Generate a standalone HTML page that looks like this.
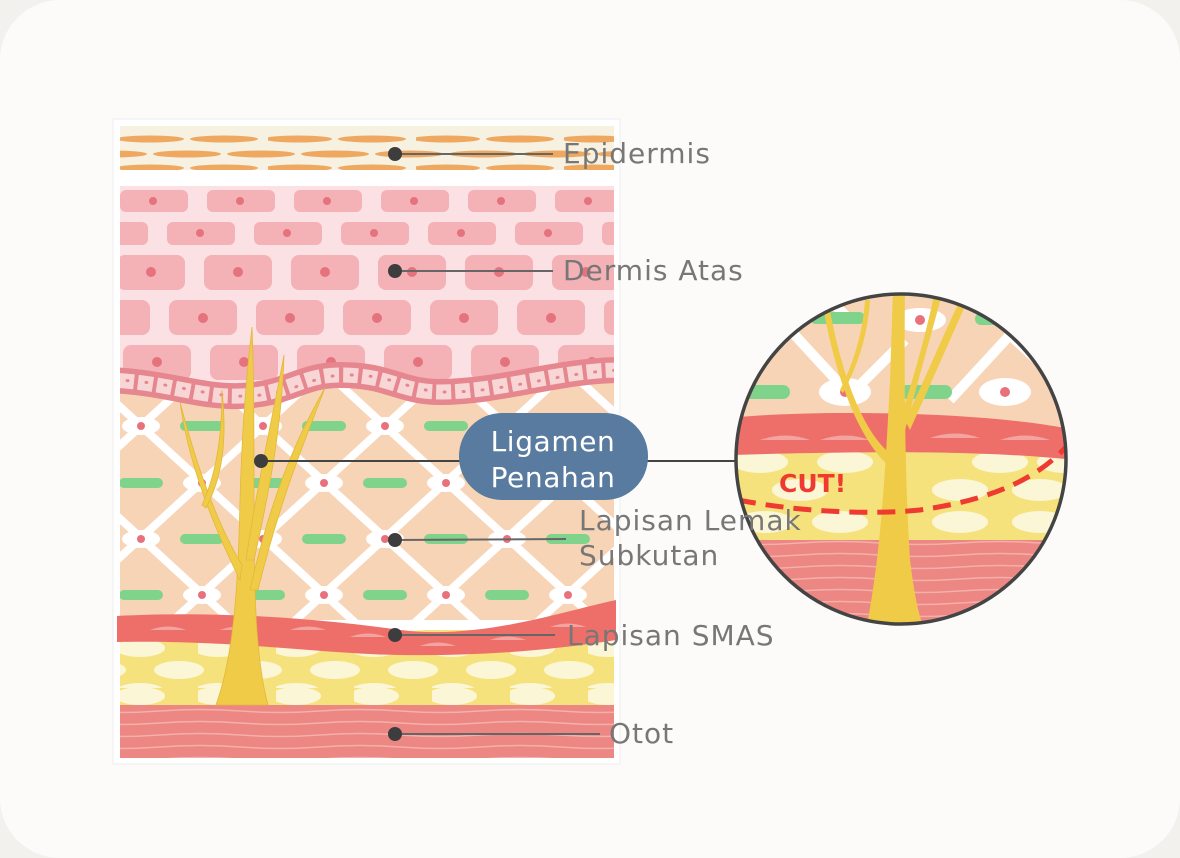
<!DOCTYPE html>
<html><head><meta charset="utf-8"><style>
html,body{margin:0;padding:0;background:#f3f1ee;}
svg{display:block;}
text{font-family:"DejaVu Sans","Liberation Sans",sans-serif;}
</style></head><body>
<svg width="1180" height="858" viewBox="0 0 1180 858" xmlns="http://www.w3.org/2000/svg">
<defs>
<pattern id="epi" x="120" y="126" width="148" height="44" patternUnits="userSpaceOnUse">
<rect width="148" height="44" fill="#f7f1e1"/>
<ellipse cx="30" cy="13" rx="34" ry="3.5" fill="#efa860"/><ellipse cx="104" cy="13" rx="34" ry="3.5" fill="#efa860"/>
<ellipse cx="-7" cy="28" rx="34" ry="3.5" fill="#efa860"/><ellipse cx="67" cy="28" rx="34" ry="3.5" fill="#efa860"/><ellipse cx="141" cy="28" rx="34" ry="3.5" fill="#efa860"/>
<ellipse cx="30" cy="42" rx="34" ry="3.5" fill="#efa860"/><ellipse cx="104" cy="42" rx="34" ry="3.5" fill="#efa860"/>
</pattern>
<pattern id="lat" x="80" y="370" width="122" height="112" patternUnits="userSpaceOnUse">
<rect width="122" height="112" fill="#f8d4b6"/>
<path d="M-122,0 L0,112 M0,0 L122,112 M122,0 L244,112 M-122,112 L0,0 M0,112 L122,0 M122,112 L244,0" stroke="#fff" stroke-width="8" fill="none"/>
</pattern>
<g id="eye"><ellipse cx="0" cy="0" rx="19" ry="9" fill="#fff"/><circle r="4" fill="#e8727c"/></g>
<rect id="grn" x="-22" y="-5" width="44" height="10" rx="5" fill="#7fd38a"/>
<pattern id="yel" x="120" y="640" width="78" height="48" patternUnits="userSpaceOnUse">
<rect width="78" height="48" fill="#f6e27c"/>
<ellipse cx="20" cy="8" rx="25" ry="9" fill="#fbf6d6"/>
<ellipse cx="59" cy="30" rx="25" ry="9" fill="#fbf6d6"/>
<ellipse cx="-19" cy="30" rx="25" ry="9" fill="#fbf6d6"/>
<ellipse cx="20" cy="52" rx="25" ry="9" fill="#fbf6d6"/>
</pattern>
<pattern id="mus" x="0" y="705" width="160" height="12" patternUnits="userSpaceOnUse">
<rect width="160" height="12" fill="#ec8783"/>
<path d="M0,6 Q40,3 80,6 T160,6" stroke="#f5b0aa" stroke-width="1.5" fill="none"/>
</pattern>
<clipPath id="cc"><circle cx="901" cy="459" r="165"/></clipPath>
<clipPath id="pc"><rect x="120" y="186" width="494" height="572"/></clipPath>
</defs>

<rect x="0" y="0" width="1180" height="858" rx="60" fill="#fcfbf9"/>
<rect x="113" y="119" width="507" height="645" fill="#fff" stroke="#eee" stroke-width="1"/>

<rect x="120" y="126" width="494" height="44" fill="url(#epi)"/>

<g clip-path="url(#pc)">
<rect x="120" y="186" width="494" height="200" fill="#fbe1e3"/>
<g fill="#f4b1b6">
<rect x="120" y="190" width="68" height="22" rx="6"/><rect x="207" y="190" width="68" height="22" rx="6"/><rect x="294" y="190" width="68" height="22" rx="6"/><rect x="381" y="190" width="68" height="22" rx="6"/><rect x="468" y="190" width="68" height="22" rx="6"/><rect x="555" y="190" width="68" height="22" rx="6"/>
<rect x="80" y="222" width="68" height="23" rx="6"/><rect x="167" y="222" width="68" height="23" rx="6"/><rect x="254" y="222" width="68" height="23" rx="6"/><rect x="341" y="222" width="68" height="23" rx="6"/><rect x="428" y="222" width="68" height="23" rx="6"/><rect x="515" y="222" width="68" height="23" rx="6"/><rect x="602" y="222" width="68" height="23" rx="6"/>
<rect x="117" y="255" width="68" height="35" rx="8"/><rect x="204" y="255" width="68" height="35" rx="8"/><rect x="291" y="255" width="68" height="35" rx="8"/><rect x="378" y="255" width="68" height="35" rx="8"/><rect x="465" y="255" width="68" height="35" rx="8"/><rect x="552" y="255" width="68" height="35" rx="8"/>
<rect x="82" y="300" width="68" height="35" rx="8"/><rect x="169" y="300" width="68" height="35" rx="8"/><rect x="256" y="300" width="68" height="35" rx="8"/><rect x="343" y="300" width="68" height="35" rx="8"/><rect x="430" y="300" width="68" height="35" rx="8"/><rect x="517" y="300" width="68" height="35" rx="8"/><rect x="604" y="300" width="68" height="35" rx="8"/>
<rect x="123" y="345" width="68" height="35" rx="8"/><rect x="210" y="345" width="68" height="35" rx="8"/><rect x="297" y="345" width="68" height="35" rx="8"/><rect x="384" y="345" width="68" height="35" rx="8"/><rect x="471" y="345" width="68" height="35" rx="8"/><rect x="558" y="345" width="68" height="35" rx="8"/>
</g>
<g fill="#e5737d">
<circle cx="153" cy="201" r="4"/><circle cx="240" cy="201" r="4"/><circle cx="327" cy="201" r="4"/><circle cx="414" cy="201" r="4"/><circle cx="501" cy="201" r="4"/><circle cx="588" cy="201" r="4"/>
<circle cx="200" cy="233" r="4"/><circle cx="287" cy="233" r="4"/><circle cx="374" cy="233" r="4"/><circle cx="461" cy="233" r="4"/><circle cx="548" cy="233" r="4"/>
<circle cx="151" cy="272" r="5"/><circle cx="238" cy="272" r="5"/><circle cx="325" cy="272" r="5"/><circle cx="412" cy="272" r="5"/><circle cx="499" cy="272" r="5"/><circle cx="586" cy="272" r="5"/>
<circle cx="203" cy="318" r="5"/><circle cx="290" cy="318" r="5"/><circle cx="377" cy="318" r="5"/><circle cx="464" cy="318" r="5"/><circle cx="551" cy="318" r="5"/>
<circle cx="157" cy="362" r="5"/><circle cx="244" cy="362" r="5"/><circle cx="331" cy="362" r="5"/><circle cx="418" cy="362" r="5"/><circle cx="505" cy="362" r="5"/><circle cx="592" cy="362" r="5"/>
</g>
<path d="M100,382 C160,382 200,398 240,396 C290,394 300,375 340,375 C390,375 400,392 440,392 C500,392 560,370 620,370 L620,620 L100,620 Z" fill="url(#lat)"/>
<path d="M100,380 C160,380 200,398 240,396 C290,394 300,375 340,375 C390,375 400,392 440,392 C500,392 560,370 620,370" stroke="#e6868f" stroke-width="26" fill="none"/>
<path d="M100,380 C160,380 200,398 240,396 C290,394 300,375 340,375 C390,375 400,392 440,392 C500,392 560,370 620,370" stroke="#f9d6d6" stroke-width="15" stroke-dasharray="15 4" fill="none"/>
<path d="M100,380 C160,380 200,398 240,396 C290,394 300,375 340,375 C390,375 400,392 440,392 C500,392 560,370 620,370" stroke="#e6868f" stroke-width="3" stroke-dasharray="1 18" stroke-linecap="round" fill="none" transform="translate(8,0)"/>
<use href="#eye" x="141" y="426"/><use href="#eye" x="263" y="426"/><use href="#eye" x="385" y="426"/><use href="#eye" x="507" y="426"/>
<use href="#grn" x="202" y="426"/><use href="#grn" x="324" y="426"/><use href="#grn" x="446" y="426"/><use href="#grn" x="568" y="426"/>
<use href="#grn" x="141" y="483"/><use href="#grn" x="263" y="483"/><use href="#grn" x="385" y="483"/><use href="#grn" x="507" y="483"/>
<use href="#eye" x="202" y="483"/><use href="#eye" x="324" y="483"/><use href="#eye" x="446" y="483"/><use href="#eye" x="568" y="483"/>
<use href="#eye" x="141" y="539"/><use href="#eye" x="263" y="539"/><use href="#eye" x="385" y="539"/><use href="#eye" x="507" y="539"/>
<use href="#grn" x="202" y="539"/><use href="#grn" x="324" y="539"/><use href="#grn" x="446" y="539"/><use href="#grn" x="568" y="539"/>
<use href="#grn" x="141" y="595"/><use href="#grn" x="263" y="595"/><use href="#grn" x="385" y="595"/><use href="#grn" x="507" y="595"/>
<use href="#eye" x="202" y="595"/><use href="#eye" x="324" y="595"/><use href="#eye" x="446" y="595"/><use href="#eye" x="568" y="595"/>
<rect x="120" y="630" width="494" height="78" fill="url(#yel)"/>
<rect x="120" y="705" width="494" height="53" fill="url(#mus)"/>
</g>
<path d="M117,616 C220,610 330,620 400,630 C480,640 560,612 616,600 L616,640 C540,652 470,656 400,655 C320,654 240,640 117,642 Z" fill="#ee6f69"/>
<g fill="#f3a3a0">
<path d="M150,630 q18,-7 36,0 z"/><path d="M220,630 q18,-7 36,0 z"/><path d="M290,630 q18,-7 36,0 z"/><path d="M350,637 q18,-7 36,0 z"/><path d="M420,646 q18,-7 36,0 z"/><path d="M490,640 q18,-7 36,0 z"/><path d="M550,627 q18,-7 36,0 z"/>
</g>
<g fill="#f0cb48" stroke="#e2b83a" stroke-width="0.8">
<path d="M216,705 C232,660 238,600 240,500 C242,430 246,380 252,327 C254,380 254,430 254,500 C254,600 256,660 268,705 Z"/>
<path d="M246,560 C258,480 272,420 284,355 C282,420 272,480 254,560 Z"/>
<path d="M250,590 C270,500 295,440 325,388 C305,440 280,500 258,590 Z"/>
<path d="M242,565 C215,520 195,460 180,402 C188,460 210,520 240,580 Z"/>
<path d="M202,505 C218,470 222,430 222,390 C226,430 226,470 206,508 Z"/>
</g>

<g stroke="#666" stroke-width="2" fill="none">
<line x1="395" y1="154" x2="553" y2="154"/><line x1="395" y1="271" x2="553" y2="271"/>
<line x1="395" y1="540" x2="566" y2="539"/><line x1="395" y1="635" x2="555" y2="635"/>
<line x1="395" y1="734" x2="600" y2="734"/>
<line x1="261" y1="461" x2="470" y2="461" stroke="#444"/>
<line x1="640" y1="461" x2="736" y2="461" stroke="#444"/>
</g>
<g fill="#3d3d3d">
<circle cx="395" cy="154" r="7"/><circle cx="395" cy="271" r="7"/><circle cx="395" cy="540" r="7"/><circle cx="395" cy="635" r="7"/><circle cx="395" cy="734" r="7"/><circle cx="261" cy="461" r="7"/>
</g>

<g clip-path="url(#cc)">
<rect x="730" y="290" width="345" height="340" fill="#f8d4b6"/>
<path d="M700,425 L790,330 L850,395 L905,340 M950,400 L1010,335 L1080,400 M820,290 L850,320 M1040,290 L1075,330" stroke="#fff" stroke-width="10" fill="none"/>
<rect x="810" y="312" width="55" height="12" rx="6" fill="#7fd38a"/><rect x="975" y="313" width="40" height="12" rx="6" fill="#7fd38a"/>
<rect x="740" y="385" width="50" height="14" rx="7" fill="#7fd38a"/><rect x="900" y="385" width="52" height="14" rx="7" fill="#7fd38a"/>
<ellipse cx="845" cy="392" rx="26" ry="14" fill="#fff"/><circle cx="845" cy="392" r="5" fill="#e8727c"/>
<ellipse cx="1005" cy="392" rx="26" ry="14" fill="#fff"/><circle cx="1005" cy="392" r="5" fill="#e8727c"/>
<ellipse cx="920" cy="320" rx="26" ry="12" fill="#fff"/><circle cx="920" cy="320" r="5" fill="#e8727c"/>
<rect x="730" y="445" width="345" height="100" fill="#f6e27c"/>
<g fill="#fbf6d6">
<ellipse cx="760" cy="462" rx="28" ry="11"/><ellipse cx="845" cy="462" rx="28" ry="11"/><ellipse cx="1000" cy="462" rx="28" ry="11"/><ellipse cx="1065" cy="462" rx="28" ry="11"/>
<ellipse cx="800" cy="490" rx="28" ry="11"/><ellipse cx="960" cy="490" rx="28" ry="11"/><ellipse cx="1040" cy="490" rx="28" ry="11"/>
<ellipse cx="765" cy="522" rx="28" ry="11"/><ellipse cx="840" cy="522" rx="28" ry="11"/><ellipse cx="960" cy="522" rx="28" ry="11"/><ellipse cx="1040" cy="522" rx="28" ry="11"/>
</g>
<path d="M730,418 C800,410 980,410 1075,430 L1075,460 C1000,452 900,450 730,455 Z" fill="#ee6f69"/>
<g fill="#f3a3a0"><path d="M760,440 q25,-9 50,0z"/><path d="M820,440 q25,-9 50,0z"/><path d="M930,438 q25,-9 50,0z"/><path d="M1000,440 q25,-9 50,0z"/></g>
<rect x="730" y="540" width="345" height="95" fill="url(#mus)"/>
<g fill="#f0cb48">
<path d="M866,630 C880,560 885,480 890,380 L893,290 L905,290 C904,380 905,480 910,560 C915,600 920,620 925,630 Z"/>
<path d="M893,440 C910,390 925,340 935,290 L943,290 C930,340 915,390 900,450 Z"/>
<path d="M905,420 C925,380 945,330 965,290 L970,295 C950,340 930,385 910,430 Z"/>
<path d="M888,465 C860,440 835,380 822,300 L828,300 C842,380 865,435 892,455 Z"/>
<path d="M840,390 C855,360 863,330 865,300 L870,300 C868,335 858,365 843,393 Z"/>
</g>
<path d="M738,500 C800,512 870,515 920,510 C990,500 1035,480 1065,448" stroke="#ee3a30" stroke-width="5" stroke-dasharray="18 10" fill="none"/>
<text x="779" y="492" font-size="25" font-weight="bold" fill="#ee3a30" font-family="Liberation Sans, sans-serif">CUT!</text>
</g>
<circle cx="901" cy="459" r="165" fill="none" stroke="#444" stroke-width="3.5"/>

<rect x="459" y="413" width="189" height="87" rx="43" fill="#587b9f"/>
<text x="553" y="451" font-size="28" fill="#fff" text-anchor="middle" letter-spacing="0.6">Ligamen</text>
<text x="553" y="487" font-size="28" fill="#fff" text-anchor="middle" letter-spacing="0.6">Penahan</text>

<g font-size="28" fill="#777" letter-spacing="1">
<text x="563" y="163">Epidermis</text>
<text x="563" y="280">Dermis Atas</text>
<text x="579" y="530">Lapisan Lemak</text>
<text x="579" y="565">Subkutan</text>
<text x="567" y="645">Lapisan SMAS</text>
<text x="609" y="743">Otot</text>
</g>
</svg>
</body></html>
